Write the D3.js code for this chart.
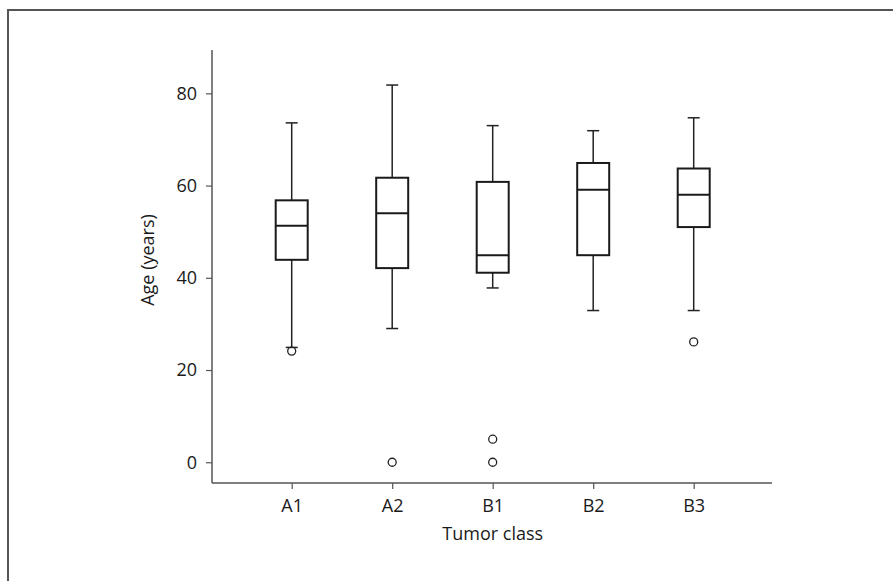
<!DOCTYPE html>
<html>
<head>
<meta charset="utf-8">
<script src="https://cdn.jsdelivr.net/npm/d3@7"></script>
<style>
  html, body { margin: 0; padding: 0; background: #fff; }
  svg { display: block; }
  text { font-family: "Open Sans", "Noto Sans", sans-serif; fill: #1a1a1a; }
</style>
</head>
<body>
<svg id="chart" width="893" height="581"></svg>
<script>
const categories = ["A1", "A2", "B1", "B2", "B3"];
const whiskerLow  = [24.9, 29.0, 37.8, 32.9, 32.9];
const q1          = [43.9, 42.1, 41.1, 44.9, 51.0];
const median      = [51.3, 54.0, 44.9, 59.1, 58.0];
const q3          = [56.8, 61.7, 60.8, 64.9, 63.7];
const whiskerHigh = [73.6, 81.8, 73.0, 71.9, 74.7];
const outliers    = [[24.1], [0], [5.0, 0], [], [26.1]];
const yTicks = [0, 20, 40, 60, 80];
const xTitle = "Tumor class";
const yTitle = "Age (years)";

const svg = d3.select("#chart");

// outer frame
svg.append("rect")
  .attr("x", 8).attr("y", 10).attr("width", 900).attr("height", 600)
  .attr("fill", "none").attr("stroke", "#555").attr("stroke-width", 2);

const plotL = 212, plotR = 772, plotT = 50, plotB = 483;

const x = d3.scalePoint().domain(categories).range([291.7, 693.7]);
const y = d3.scaleLinear().domain([-4.5, 89.4]).range([plotB, plotT]);

const boxW = 32, capW = 12;

// axes
const yAxis = d3.axisLeft(y).tickValues(yTicks).tickSize(6).tickPadding(9).tickSizeOuter(0);
const yG = svg.append("g").attr("transform", `translate(${plotL},0)`).call(yAxis);
yG.select(".domain").attr("d", `M0,${plotT}V${plotB}`);

const xAxis = d3.axisBottom(x).tickSize(6).tickPadding(10).tickSizeOuter(0);
const xG = svg.append("g").attr("transform", `translate(0,${plotB})`).call(xAxis);
xG.select(".domain").attr("d", `M${plotL},0H${plotR}`);

[yG, xG].forEach(g => {
  g.selectAll(".domain").attr("stroke", "#555").attr("stroke-width", 1.5);
  g.selectAll(".tick line").attr("stroke", "#555").attr("stroke-width", 1.2);
  g.selectAll(".tick text").attr("font-size", 18).attr("fill", "#1a1a1a")
    .style("font-family", '"Open Sans", sans-serif');
});

// titles
svg.append("text")
  .attr("x", x("B1")).attr("y", 540)
  .attr("text-anchor", "middle").attr("font-size", 18)
  .text(xTitle);
svg.append("text")
  .attr("transform", `translate(154,260) rotate(-90)`)
  .attr("text-anchor", "middle").attr("font-size", 18)
  .text(yTitle);

// boxes
const data = categories.map((c, i) => ({
  c, lo: whiskerLow[i], q1: q1[i], med: median[i], q3: q3[i], hi: whiskerHigh[i], out: outliers[i]
}));

const g = svg.append("g");
data.forEach(d => {
  const cx = x(d.c);
  g.append("line").attr("x1", cx).attr("x2", cx).attr("y1", y(d.hi)).attr("y2", y(d.q3))
    .attr("stroke", "#222").attr("stroke-width", 1.5);
  g.append("line").attr("x1", cx).attr("x2", cx).attr("y1", y(d.q1)).attr("y2", y(d.lo))
    .attr("stroke", "#222").attr("stroke-width", 1.5);
  g.append("line").attr("x1", cx - capW/2).attr("x2", cx + capW/2).attr("y1", y(d.hi)).attr("y2", y(d.hi))
    .attr("stroke", "#222").attr("stroke-width", 1.5);
  g.append("line").attr("x1", cx - capW/2).attr("x2", cx + capW/2).attr("y1", y(d.lo)).attr("y2", y(d.lo))
    .attr("stroke", "#222").attr("stroke-width", 1.5);
  g.append("rect").attr("x", cx - boxW/2).attr("width", boxW)
    .attr("y", y(d.q3)).attr("height", y(d.q1) - y(d.q3))
    .attr("fill", "#fff").attr("stroke", "#1a1a1a").attr("stroke-width", 2);
  g.append("line").attr("x1", cx - boxW/2).attr("x2", cx + boxW/2).attr("y1", y(d.med)).attr("y2", y(d.med))
    .attr("stroke", "#1a1a1a").attr("stroke-width", 2);
  d.out.forEach(v => {
    g.append("circle").attr("cx", cx).attr("cy", y(v)).attr("r", 4)
      .attr("fill", "none").attr("stroke", "#222").attr("stroke-width", 1.3);
  });
});
</script>
</body>
</html>
